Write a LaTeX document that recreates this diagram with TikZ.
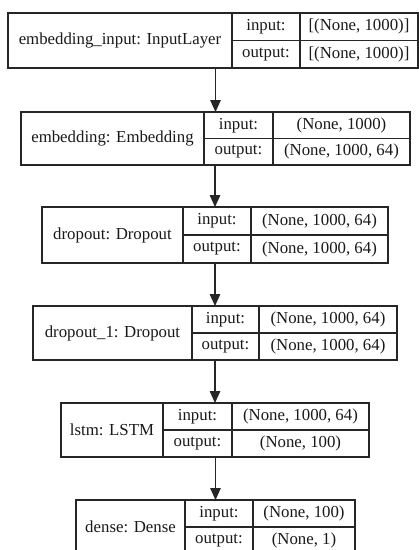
\documentclass[tikz,border=0pt]{standalone}
\usepackage{fontspec}
\setmainfont{Liberation Serif}
\usetikzlibrary{arrows.meta}

\tikzset{
  frame/.style={draw=black!85, line width=1.4pt},
  rule/.style={draw=black!85, line width=1.4pt},
  txt/.style={font=\fontsize{16.8}{18}\selectfont, text=black!90, inner sep=0pt},
  arr/.style={draw=black!85, line width=1.4pt, -{Triangle[length=12pt,width=10.5pt]}},
}

\begin{document}
\begin{tikzpicture}[x=1pt, y=-1pt]
  \useasboundingbox (0,0) rectangle (419,550);
  \clip (0,0) rectangle (419,550);
  \fill[white] (0,0) rectangle (419,550);

  % one layer: outer frame, label cell, input/output cells
  \foreach \n/\l/\t/\r/\b/\da/\db/\lab/\inp/\outp in {
      L1/8/13/418/68/232/300/{embedding\_input: InputLayer}/{[(None, 1000)]}/{[(None, 1000)]},
      L2/21/112/410/165/204/273/{embedding: Embedding}/{(None, 1000)}/{(None, 1000, 64)},
      L3/42/207/388/263/183/251/{dropout: Dropout}/{(None, 1000, 64)}/{(None, 1000, 64)},
      L4/33/306/397/360/192/259/{dropout\_1: Dropout}/{(None, 1000, 64)}/{(None, 1000, 64)},
      L5/61/403/369/457/163/232/{lstm: LSTM}/{(None, 1000, 64)}/{(None, 100)},
      L6/76/500/355/554/185/253/{dense: Dense}/{(None, 100)}/{(None, 1)}} {
    \node[frame, anchor=north west, inner sep=0pt, outer sep=0pt,
          minimum width={(\r-\l)*1pt}, minimum height={(\b-\t)*1pt}]
          (\n) at (\l,\t) {};
    \draw[rule] (\da,\t) -- (\da,\b);
    \draw[rule] (\db,\t) -- (\db,\b);
    \draw[rule] (\da,{(\t+\b)/2}) -- (\r,{(\t+\b)/2});
    \node[txt] (\n-lab) at ({(\l+\da)/2},{(\t+\b)/2}) {\lab};
    \node[txt] (\n-ik) at ({(\da+\db)/2},{(3*\t+\b)/4}) {input:};
    \node[txt] (\n-ok) at ({(\da+\db)/2},{(\t+3*\b)/4}) {output:};
    \node[txt] (\n-iv) at ({(\db+\r)/2},{(3*\t+\b)/4}) {\inp};
    \node[txt] (\n-ov) at ({(\db+\r)/2},{(\t+3*\b)/4}) {\outp};
  }

  % connectors between consecutive layers
  \foreach \a/\b in {L1/L2, L2/L3, L3/L4, L4/L5, L5/L6}
    \draw[arr] (\a.south -| \b.north) -- (\b.north);
\end{tikzpicture}
\end{document}
